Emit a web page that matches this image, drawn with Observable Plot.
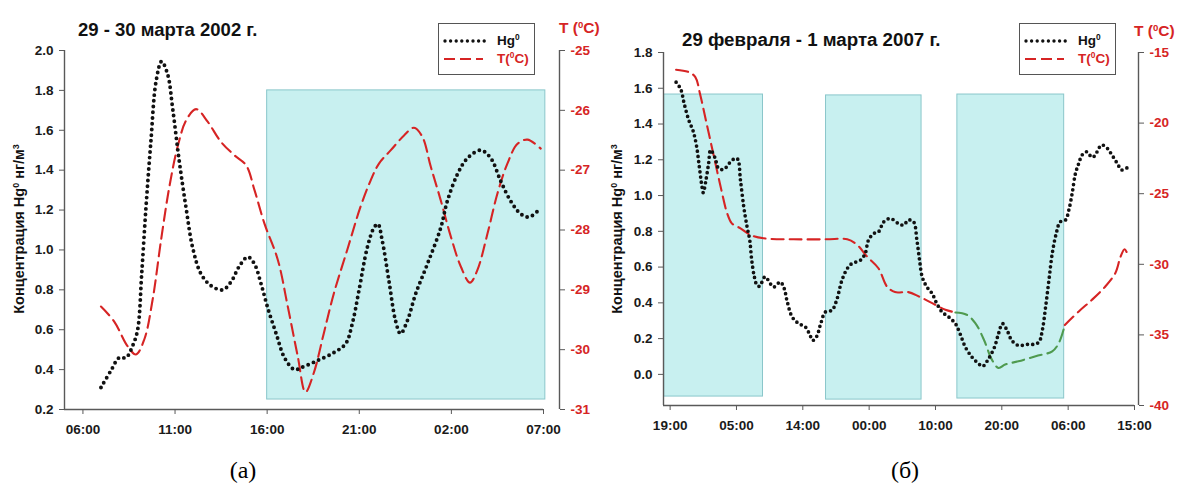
<!DOCTYPE html>
<html><head><meta charset="utf-8">
<script src="https://cdn.jsdelivr.net/npm/d3@7"></script>
<script src="https://cdn.jsdelivr.net/npm/@observablehq/plot@0.6"></script>
<style>
body{margin:0;background:#fff;font-family:"Liberation Sans",Arial,sans-serif;}
#page{position:relative;width:1180px;height:491px;overflow:hidden;background:#fff;}
.chart{position:absolute;top:0;}
.chart svg{overflow:visible;background:transparent;}
.lbl{position:absolute;white-space:nowrap;font-weight:bold;line-height:1;}
.sup{font-size:0.62em;position:relative;top:-0.55em;}
.legend{position:absolute;border:1.5px solid #555;background:#fff;box-sizing:border-box;}
.legend .txt{position:absolute;left:58px;font-weight:bold;font-size:13.5px;line-height:1;white-space:nowrap;}
.ylab{position:absolute;font-weight:bold;font-size:14.5px;white-space:nowrap;transform:translate(-50%,-50%) rotate(-90deg);line-height:1;}
.cap{position:absolute;font-family:"Liberation Serif","Times New Roman",serif;font-size:24px;transform:translate(-50%,-50%);}
</style></head><body>
<div id="page"></div>
<script>
// ---------- Chart (а): 29 - 30 марта 2002 г. (x = hours since 06:00) ----------
const xTicksA = [0, 5, 10, 15, 20, 25];
const xLabelsA = ["06:00", "11:00", "16:00", "21:00", "02:00", "07:00"];
const yTicksA = [0.2, 0.4, 0.6, 0.8, 1.0, 1.2, 1.4, 1.6, 1.8, 2.0];
const tTicksA = [-25, -26, -27, -28, -29, -30, -31];
const hgA_t = [0.98,1.52,1.97,2.34,2.7,2.97,3.19,3.42,3.69,3.97,4.27,4.6,4.87,5.23,5.6,5.96,6.41,6.96,7.59,8.04,8.5,8.95,9.31,9.67,10.03,10.49,10.94,11.48,11.85,12.72,13.62,14.26,14.62,14.98,15.43,15.79,16.01,16.25,16.61,16.97,17.24,17.61,18.06,18.7,19.42,19.78,20.33,20.87,21.6,22.14,22.68,23.22,23.77,24.22,24.85];
const hgA_v = [0.31,0.395,0.46,0.46,0.52,0.6,0.88,1.21,1.545,1.845,1.945,1.88,1.71,1.445,1.21,1.01,0.88,0.82,0.80,0.84,0.92,0.965,0.93,0.83,0.71,0.58,0.46,0.40,0.41,0.445,0.485,0.53,0.63,0.795,1.01,1.11,1.13,1.045,0.845,0.645,0.58,0.645,0.78,0.93,1.11,1.245,1.38,1.46,1.50,1.46,1.345,1.245,1.18,1.165,1.21];
const tA_t = [0.98,1.7,2.42,2.88,3.33,3.78,4.24,4.69,5.14,5.6,6.14,6.77,7.5,8.22,8.86,9.31,9.85,10.58,11.12,11.66,12.08,12.53,13.08,13.62,14.35,15.07,15.62,16.07,16.7,17.43,17.97,18.42,18.88,19.42,19.97,20.51,21.01,21.41,21.96,22.5,23.04,23.59,24.13,24.85];
const tA_v = [-29.28,-29.53,-29.94,-30.08,-29.83,-29.17,-28.17,-27.28,-26.61,-26.17,-25.98,-26.19,-26.53,-26.75,-26.92,-27.33,-27.89,-28.5,-29.28,-30.11,-30.71,-30.39,-29.72,-29.06,-28.33,-27.61,-27.17,-26.89,-26.67,-26.42,-26.29,-26.44,-26.94,-27.5,-28.11,-28.61,-28.88,-28.67,-28.06,-27.39,-26.89,-26.56,-26.49,-26.64];
const shadeA_x1 = [10], shadeA_x2 = [25.1], shadeA_y1 = [0.25], shadeA_y2 = [1.8];

// ---------- Chart (б): 29 февраля - 1 марта 2007 г. (x = tick-interval units) ----------
const xTicksB = [0, 1, 2, 3, 4, 5, 6, 7];
const xLabelsB = ["19:00", "05:00", "14:00", "00:00", "10:00", "20:00", "06:00", "15:00"];
const yTicksB = [0.0, 0.2, 0.4, 0.6, 0.8, 1.0, 1.2, 1.4, 1.6, 1.8];
const tTicksB = [-15, -20, -25, -30, -35, -40];
const hgB_u = [0.09,0.16,0.21,0.28,0.35,0.40,0.44,0.48,0.50,0.54,0.58,0.61,0.68,0.73,0.81,0.90,0.98,1.02,1.06,1.11,1.16,1.20,1.23,1.27,1.31,1.35,1.43,1.56,1.66,1.72,1.76,1.84,1.94,2.04,2.11,2.15,2.21,2.27,2.34,2.44,2.51,2.59,2.67,2.74,2.87,2.94,2.99,3.07,3.14,3.22,3.32,3.44,3.52,3.59,3.67,3.72,3.76,3.80,3.87,3.95,4.02,4.10,4.20,4.30,4.37,4.45,4.55,4.65,4.71,4.80,4.89,4.95,5.01,5.08,5.15,5.25,5.38,5.48,5.56,5.61,5.66,5.71,5.76,5.82,5.88,5.96,6.01,6.06,6.11,6.16,6.21,6.28,6.36,6.41,6.46,6.51,6.59,6.66,6.74,6.81,6.91];
const hgB_v = [1.634,1.595,1.517,1.423,1.357,1.273,1.161,1.05,1.016,1.087,1.18,1.255,1.208,1.152,1.147,1.184,1.208,1.203,1.087,0.937,0.825,0.751,0.639,0.545,0.499,0.493,0.545,0.489,0.517,0.48,0.415,0.321,0.284,0.265,0.218,0.19,0.213,0.284,0.349,0.359,0.415,0.527,0.592,0.62,0.639,0.676,0.751,0.788,0.797,0.853,0.872,0.844,0.835,0.863,0.853,0.751,0.639,0.545,0.489,0.452,0.396,0.349,0.321,0.284,0.228,0.153,0.097,0.06,0.045,0.088,0.153,0.228,0.284,0.246,0.19,0.162,0.168,0.168,0.181,0.246,0.377,0.527,0.676,0.788,0.853,0.863,0.919,1.012,1.124,1.18,1.227,1.245,1.214,1.227,1.264,1.283,1.264,1.227,1.18,1.143,1.161];
const tB1_u = [0.09,0.28,0.38,0.45,0.55,0.65,0.75,0.86,0.93,1.06,1.21,1.41,1.86,2.36,2.67,2.82,2.97,3.14,3.27,3.39,3.59,3.75,3.95,4.15,4.30];
const tB1_v = [-16.22,-16.39,-16.74,-17.92,-20.04,-22.15,-24.27,-26.39,-27.10,-27.45,-27.92,-28.16,-28.23,-28.23,-28.23,-28.63,-29.46,-30.28,-31.58,-31.97,-31.97,-32.28,-32.75,-33.22,-33.41];
const tBg_u = [4.30,4.47,4.60,4.73,4.85,4.95,5.05,5.25,5.51,5.76,5.86,5.95];
const tBg_v = [-33.41,-33.57,-34.16,-35.34,-36.75,-37.34,-37.1,-36.87,-36.51,-36.16,-35.57,-34.3];
const tB2_u = [5.95,6.16,6.36,6.56,6.71,6.79,6.85,6.90];
const tB2_v = [-34.3,-33.34,-32.51,-31.57,-30.63,-29.46,-28.93,-29.34];
const shadeB_x1 = [-0.09, 2.35, 4.33], shadeB_x2 = [1.40, 3.79, 5.94];
const shadeB_y1 = [-0.124, -0.141, -0.135], shadeB_y2 = [1.565, 1.56, 1.565];

// ---------- styles ----------
const RED = "#d62424", AXIS = "#595959", SHADE = "#c8f0f0", SHADE_STROKE = "#8ac6ca", GREEN = "#4f9a4f";
const FONT = "Liberation Sans, Arial, sans-serif";

const zip = (a, b, k1, k2) => a.map((v, i) => ({[k1]: v, [k2]: b[i]}));

function build(cfg) {
  const hg = zip(cfg.hgX, cfg.hgV, "x", "y");
  const shade = cfg.sx1.map((v, i) => ({x1: v, x2: cfg.sx2[i], y1: cfg.sy1[i], y2: cfg.sy2[i]}));
  const tMarks = cfg.tSegs.map(seg => Plot.line(zip(seg.x, seg.v.map(cfg.t2y), "x", "y"), {
    x: "x", y: "y", curve: "catmull-rom", stroke: seg.color, strokeWidth: 2.1,
    strokeDasharray: "12 6"
  }));
  return Plot.plot({
    width: cfg.width, height: 440,
    marginLeft: cfg.ml, marginRight: cfg.mr, marginTop: cfg.mt, marginBottom: cfg.mb,
    style: {fontFamily: FONT, fontWeight: "bold", background: "transparent", overflow: "visible"},
    x: {domain: cfg.xDomain, axis: null},
    y: {domain: cfg.yDomain, axis: null},
    marks: [
      Plot.rect(shade, {x1: "x1", x2: "x2", y1: "y1", y2: "y2", fill: SHADE, stroke: SHADE_STROKE, strokeWidth: 1}),
      ...tMarks,
      Plot.line(hg, {x: "x", y: "y", curve: "catmull-rom", stroke: "#111", strokeWidth: cfg.dotW,
        strokeDasharray: cfg.dotDash, strokeLinecap: "round"}),
      Plot.ruleX([cfg.xDomain[0]], {stroke: AXIS, strokeWidth: 1.4}),
      Plot.ruleX([cfg.xDomain[1]], {stroke: AXIS, strokeWidth: 1.4}),
      Plot.ruleY([cfg.yDomain[0]], {x1: cfg.xDomain[0], x2: cfg.xEnd, stroke: AXIS, strokeWidth: 1.4}),
      Plot.axisX(cfg.xTicks, {tickFormat: d => cfg.xLabels[cfg.xTicks.indexOf(d)], tickSize: 5,
        tickPadding: 10, fontSize: 13.5, fontWeight: "bold", stroke: AXIS, fill: "#1a1a1a"}),
      Plot.axisY(cfg.yTicks, {anchor: "left", tickFormat: d => d.toFixed(1), tickSize: 5, tickPadding: 6,
        fontSize: 13.5, fontWeight: "bold", stroke: AXIS, fill: "#1a1a1a"}),
      Plot.axisY(cfg.tTicks.map(cfg.t2y), {anchor: "right", tickFormat: d => String(Math.round(cfg.y2t(d))),
        tickSize: 5, tickPadding: 6, fontSize: 13.5, fontWeight: "bold", stroke: AXIS, fill: RED})
    ]
  });
}

const t2yA = t => 0.2 + (t + 31) / 6 * 1.8;
const y2tA = y => (y - 0.2) / 1.8 * 6 - 31;
const t2yB = t => -0.174 + (t + 40) / 25 * 1.974;
const y2tB = y => (y + 0.174) / 1.974 * 25 - 40;

const chartA = build({
  width: 600, ml: 64, mr: 41, mt: 50, mb: 31,
  xDomain: [-1, 25 + 16 / (479 / 26)], xEnd: 25, yDomain: [0.2, 2.0],
  xTicks: xTicksA, xLabels: xLabelsA, yTicks: yTicksA, tTicks: tTicksA,
  t2y: t2yA, y2t: y2tA,
  hgX: hgA_t, hgV: hgA_v, dotW: 3.9, dotDash: "0 5.7",
  tSegs: [{x: tA_t, v: tA_v, color: RED}],
  sx1: shadeA_x1, sx2: shadeA_x2, sy1: shadeA_y1, sy2: shadeA_y2
});
const chartB = build({
  width: 590, ml: 73, mr: 42, mt: 52, mb: 35,
  xDomain: [-0.1, 7 + 4 / (471 / 7.1)], xEnd: 7, yDomain: [-0.174, 1.8],
  xTicks: xTicksB, xLabels: xLabelsB, yTicks: yTicksB, tTicks: tTicksB,
  t2y: t2yB, y2t: y2tB,
  hgX: hgB_u, hgV: hgB_v, dotW: 3.7, dotDash: "0 5.2",
  tSegs: [{x: tB1_u, v: tB1_v, color: RED}, {x: tBg_u, v: tBg_v, color: GREEN}, {x: tB2_u, v: tB2_v, color: RED}],
  sx1: shadeB_x1, sx2: shadeB_x2, sy1: shadeB_y1, sy2: shadeB_y2
});

const page = document.getElementById("page");
const divA = document.createElement("div"); divA.className = "chart"; divA.style.left = "0px"; divA.appendChild(chartA);
const divB = document.createElement("div"); divB.className = "chart"; divB.style.left = "590px"; divB.appendChild(chartB);
page.appendChild(divA); page.appendChild(divB);

function add(html) { page.insertAdjacentHTML("beforeend", html); }
// titles
add(`<div class="lbl" style="left:78px;top:21px;font-size:18.5px;color:#111">29 - 30 марта 2002 г.</div>`);
add(`<div class="lbl" style="left:682px;top:31px;font-size:18.7px;color:#111">29 февраля - 1 марта 2007 г.</div>`);
// right axis titles
add(`<div class="lbl" style="left:559px;top:20px;font-size:15.5px;color:${RED}">T (<span class="sup">0</span>C)</div>`);
add(`<div class="lbl" style="left:1134px;top:23px;font-size:15.5px;color:${RED}">T (<span class="sup">0</span>C)</div>`);
// y labels
add(`<div class="ylab" style="left:19px;top:229px;color:#111">Концентрация Hg<span class="sup">0</span> нг/м<span class="sup">3</span></div>`);
add(`<div class="ylab" style="left:617px;top:229px;color:#111">Концентрация Hg<span class="sup">0</span> нг/м<span class="sup">3</span></div>`);
// legends
function legend(left) {
  add(`<div class="legend" style="left:${left}px;top:23px;width:97px;height:52px;">
    <svg style="position:absolute;left:4px;top:12px" width="46" height="10"><line x1="2" y1="5" x2="43" y2="5" stroke="#111" stroke-width="3.4" stroke-dasharray="0 5.6" stroke-linecap="round"/></svg>
    <div class="txt" style="top:10px;color:#111">Hg<span class="sup">0</span></div>
    <svg style="position:absolute;left:4px;top:30px" width="46" height="10"><line x1="1" y1="5" x2="40" y2="5" stroke="${RED}" stroke-width="2.2" stroke-dasharray="11 5"/></svg>
    <div class="txt" style="top:28px;color:${RED}">T(<span class="sup">0</span>C)</div>
  </div>`);
}
legend(438); legend(1019);
// captions
add(`<div class="cap" style="left:243px;top:470px">(а)</div>`);
add(`<div class="cap" style="left:905px;top:470px">(б)</div>`);
</script>
</body></html>
